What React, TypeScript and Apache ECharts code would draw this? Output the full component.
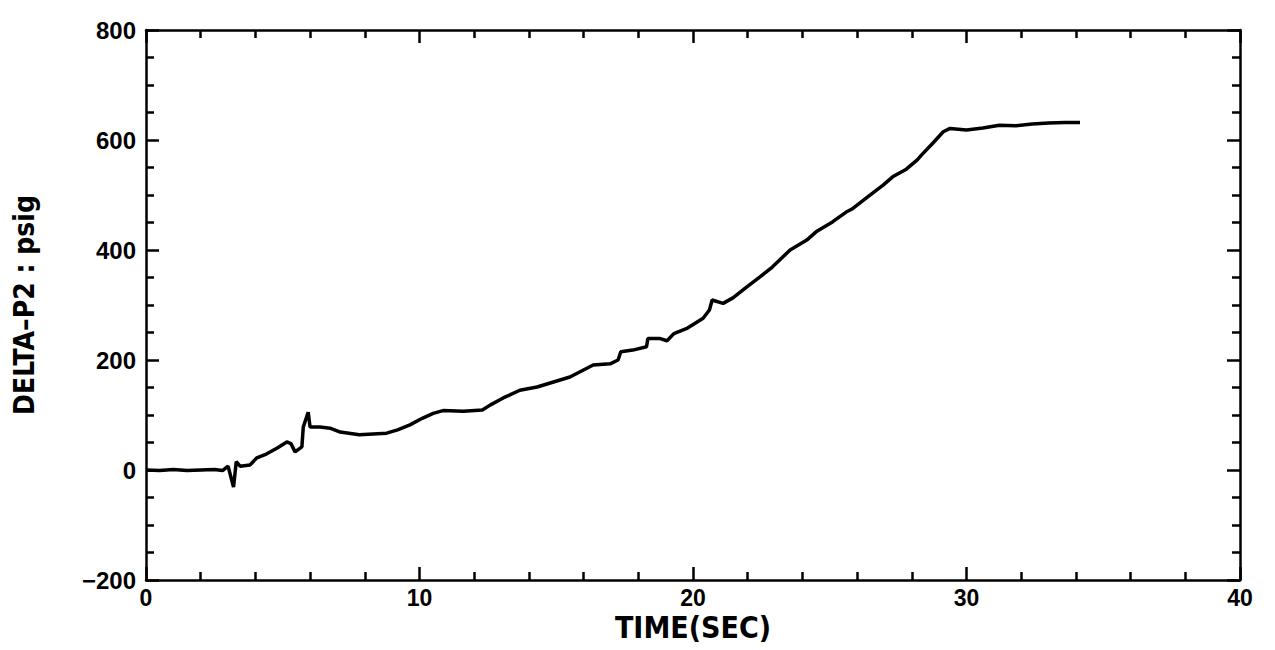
import React, { useEffect, useRef } from "react";
import * as echarts from "echarts";

const timeSec = [
  0, 0.5, 1.0, 1.5, 2.0, 2.5, 2.8, 3.0, 3.2, 3.3, 3.44, 3.8, 4.05, 4.4, 4.8, 5.15, 5.3, 5.45, 5.7, 5.75,
  5.93, 6.0, 6.36, 6.73, 7.1, 7.8, 8.8, 9.2, 9.65, 10.1, 10.5, 10.86, 11.6, 12.3, 12.58, 13.06, 13.67,
  14.3, 14.9, 15.5, 16.35, 16.97, 17.26, 17.36, 17.8, 18.3, 18.35, 18.8, 19.05, 19.3, 19.8, 20.37, 20.6,
  20.7, 21.1, 21.46, 21.97, 22.45, 22.9, 23.55, 24.16, 24.5, 25.1, 25.6, 25.8, 26.4, 26.95, 27.3, 27.8,
  28.2, 28.36, 28.8, 29.15, 29.4, 30.0, 30.6, 31.2, 31.8, 32.4, 33.0, 33.6, 34.15,
];
const deltaP2 = [
  0, -1, 1, -1, 0, 1, -1, 7, -31, 15, 7, 9, 22, 29, 40, 51, 48, 33, 42, 78,
  105, 78, 78, 76, 69, 64, 67, 73, 82, 94, 103, 108, 107, 109, 118, 131, 145,
  151, 160, 169, 191, 193, 200, 215, 218, 224, 239, 239, 235, 248, 258, 276, 291,
  309, 303, 313, 333, 351, 369, 400, 418, 433, 451, 469, 474, 497, 518, 533, 547,
  564, 573, 596, 615, 621, 618, 622, 627, 626, 629, 631, 632, 632,
];

const xTicks = { min: 0, max: 40, interval: 10 };
const yTicks = { min: -200, max: 800, interval: 200 };
const xName = "TIME(SEC)";
const yName = "DELTA\u2013P2 : psig";

const NARROW = "'Liberation Sans Narrow', 'DejaVu Sans Condensed', 'DejaVu Sans', sans-serif";
const LIB = "'Liberation Sans', Arial, sans-serif";

export default function App() {
  const ref = useRef<HTMLDivElement>(null);
  useEffect(() => {
    if (!ref.current) return;
    const chart = echarts.init(ref.current, null, { renderer: "svg" });
    const lineStyle = { color: "#000", width: 2.5 };
    const baseX = {
      type: "value",
      min: xTicks.min,
      max: xTicks.max,
      interval: xTicks.interval,
      splitLine: { show: false },
      axisLine: { show: true, onZero: false, lineStyle },
      axisTick: { show: true, inside: true, length: 13, lineStyle: { color: "#000", width: 2.5 } },
      minorTick: { show: true, splitNumber: 5, length: 8, lineStyle: { color: "#000", width: 2.5 } },
    };
    const baseY = {
      type: "value",
      min: yTicks.min,
      max: yTicks.max,
      interval: yTicks.interval,
      splitLine: { show: false },
      axisLine: { show: true, onZero: false, lineStyle },
      axisTick: { show: true, inside: true, length: 13, lineStyle: { color: "#000", width: 2.5 } },
      minorTick: { show: true, splitNumber: 4, length: 8, lineStyle: { color: "#000", width: 2.5 } },
    };
    chart.setOption({
      animation: false,
      backgroundColor: "#fff",
      grid: { left: 138, right: 27, top: 22, bottom: 62, containLabel: false, outerBoundsMode: "none" },
      xAxis: [
        {
          ...baseX,
          position: "bottom",
          name: xName,
          nameLocation: "middle",
          nameGap: 36,
          nameMoveOverlap: false,
          nameTextStyle: {
            color: "#000",
            fontFamily: NARROW,
            fontWeight: "bold",
            fontSize: 30,
            lineHeight: 22,
            verticalAlign: "top",
          },
          axisLabel: { color: "#000", fontFamily: LIB, fontWeight: "bold", fontSize: 23, lineHeight: 18, margin: 9 },
        },
        { ...baseX, position: "top", axisLabel: { show: false } },
      ],
      yAxis: [
        {
          ...baseY,
          position: "left",
          name: yName,
          nameLocation: "middle",
          nameGap: 108,
          nameMoveOverlap: false,
          nameTextStyle: { color: "#000", fontFamily: NARROW, fontWeight: "bold", fontSize: 28 },
          axisLabel: {
            color: "#000",
            fontFamily: LIB,
            fontWeight: "bold",
            fontSize: 24,
            margin: 10,
            formatter: (v: number) => String(v).replace("-", "\u2212"),
          },
        },
        { ...baseY, position: "right", axisLabel: { show: false } },
      ],
      series: [
        {
          type: "line",
          xAxisIndex: 0,
          yAxisIndex: 0,
          data: timeSec.map((t, i) => [t, deltaP2[i]]),
          showSymbol: false,
          symbol: "none",
          lineStyle: { color: "#000", width: 3.5 },
        },
      ],
    });
    return () => chart.dispose();
  }, []);
  return <div ref={ref} style={{ width: 1259, height: 634 }} />;
}
